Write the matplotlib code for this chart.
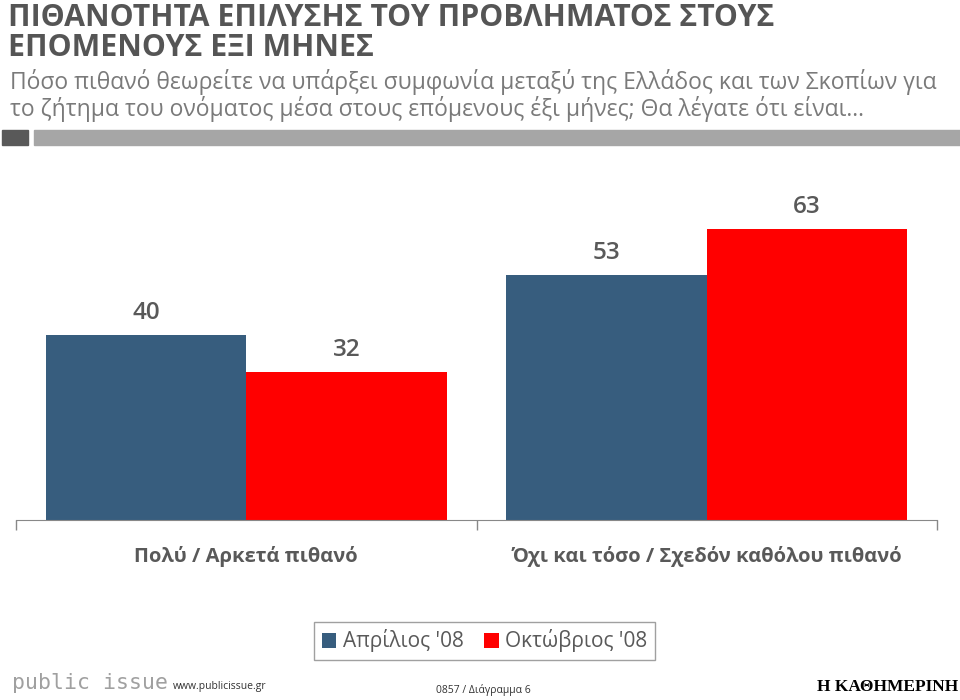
import numpy as np
import matplotlib.pyplot as plt
from matplotlib.patches import Rectangle

categories = ["Πολύ / Αρκετά πιθανό", "Όχι και τόσο / Σχεδόν καθόλου πιθανό"]
series = ["Απρίλιος '08", "Οκτώβριος '08"]
april = [40, 53]
october = [32, 63]
colors = ["#375d7e", "#ff0000"]

title = "ΠΙΘΑΝΟΤΗΤΑ ΕΠΙΛΥΣΗΣ ΤΟΥ ΠΡΟΒΛΗΜΑΤΟΣ ΣΤΟΥΣ\nΕΠΟΜΕΝΟΥΣ ΕΞΙ ΜΗΝΕΣ"
subtitle = ("Πόσο πιθανό θεωρείτε να υπάρξει συμφωνία μεταξύ της Ελλάδος και των Σκοπίων για\n"
            "το ζήτημα του ονόματος μέσα στους επόμενους έξι μήνες; Θα λέγατε ότι είναι…")

narrow = ["Liberation Sans Narrow", "DejaVu Sans Condensed", "Open Sans"]
plt.rcParams['font.family'] = ["Open Sans", "DejaVu Sans"]

fig = plt.figure(figsize=(9.6, 7), dpi=100)
fig.patch.set_facecolor("white")

# header
fig.text(0.008, 0.996, title, ha="left", va="top", fontsize=21.8, fontweight="bold",
         color="#555555", family=narrow, linespacing=1.02)
fig.text(0.010, 0.902, subtitle, ha="left", va="top", fontsize=16.5,
         color="#7a7a7a", family=narrow, linespacing=1.05)
fig.patches.append(Rectangle((0.002, 0.793), 0.027, 0.021, transform=fig.transFigure,
                             color="#595959", zorder=1))
fig.patches.append(Rectangle((0.035, 0.793), 0.965, 0.021, transform=fig.transFigure,
                             color="#a6a6a6", zorder=1))

ax = fig.add_axes([16/960, 1-520/700, 921/960, 350/700])
x = np.arange(len(categories))
w = 0.4355
b1 = ax.bar(x - w/2, april, w, color=colors[0], label=series[0])
b2 = ax.bar(x + w/2, october, w, color=colors[1], label=series[1])
for bars in (b1, b2):
    for r in bars:
        ax.annotate(f"{r.get_height():.0f}", (r.get_x() + r.get_width()/2, r.get_height()),
                    xytext=(0, 7), textcoords="offset points", ha="center", va="bottom",
                    fontsize=17.5, color="#595959", fontweight="semibold")

ax.set_xlim(-0.5, 1.5)
ax.set_ylim(0, 75.7)
ax.set_yticks([])
ax.set_xticks([-0.5, 0.5, 1.5])
ax.set_xticklabels([])
ax.tick_params(axis="x", length=7, color="#888888", width=1)
for s in ["top", "right", "left"]:
    ax.spines[s].set_visible(False)
ax.spines["bottom"].set_color("#888888")
for i, c in enumerate(categories):
    ax.text(x[i], -0.105, c, transform=ax.get_xaxis_transform(), ha="center", va="center",
            fontsize=14.5, fontweight="bold", color="#595959")

leg = fig.legend(loc="center", bbox_to_anchor=(484.5/960, 1-641/700), ncol=2,
                 fontsize=15, frameon=True, fancybox=False, edgecolor="#888888",
                 handlelength=0.7, handleheight=0.7, handletextpad=0.3, columnspacing=1.0,
                 borderpad=0.35)
for t in leg.get_texts():
    t.set_color("#595959")

# footer
fig.text(0.012, 0.024, "public issue", ha="left", va="center", fontsize=15.5,
         color="#a0a0a0", family="DejaVu Sans Mono")
fig.text(0.180, 0.020, "www.publicissue.gr", ha="left", va="center", fontsize=7.5,
         color="#333333", family=narrow)
fig.text(0.503, 0.014, "0857 / Διάγραμμα 6", ha="center", va="center", fontsize=7.5,
         color="#333333", family=narrow)
fig.text(0.998, 0.018, "Η ΚΑΘΗΜΕΡΙΝΗ", ha="right", va="center", fontsize=12.5,
         color="black", family=["Liberation Serif", "DejaVu Serif"], fontweight="bold")

fig.savefig("out.png", dpi=100, facecolor="white")
